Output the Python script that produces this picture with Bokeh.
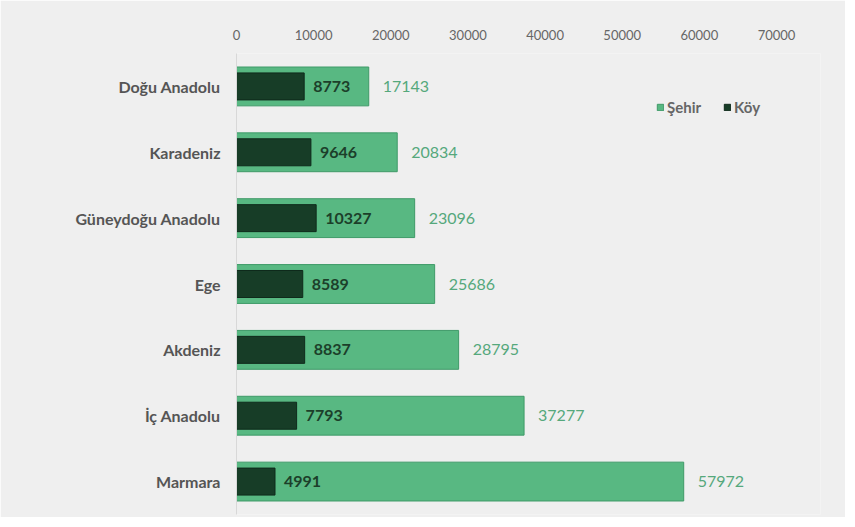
from bokeh.plotting import figure
from bokeh.models import FactorRange, Range1d, FixedTicker, ColumnDataSource, LabelSet
from bokeh.embed import file_html
from bokeh.resources import INLINE
from bokeh.core.properties import value

regions = ["Doğu Anadolu", "Karadeniz", "Güneydoğu Anadolu", "Ege", "Akdeniz", "İç Anadolu", "Marmara"]
sehir = [17143, 20834, 23096, 25686, 28795, 37277, 57972]
koy = [8773, 9646, 10327, 8589, 8837, 7793, 4991]
x_ticks = [0, 10000, 20000, 30000, 40000, 50000, 60000, 70000]

FONT = "Lato"
BG = "#efefef"
SEHIR_C = "#58b882"
KOY_C = "#173d27"

p = figure(width=845, height=517, output_backend="svg", toolbar_location=None,
           y_range=FactorRange(factors=list(reversed(regions))),
           x_range=Range1d(0, 584 / 540 * 70000),
           x_axis_location="above",
           min_border_left=236, min_border_right=25, min_border_top=53, min_border_bottom=3)
p.background_fill_color = BG
p.border_fill_color = BG
p.outline_line_color = None
p.grid.grid_line_color = None

src = ColumnDataSource(dict(
    region=regions, sehir=sehir, koy=koy,
    sehir_lbl=[str(v) for v in sehir], koy_lbl=[str(v) for v in koy],
))

p.hbar(y="region", left=0, right="sehir", height=0.59, source=src,
       fill_color=SEHIR_C, line_color="#3f9a68", line_width=1, legend_label="Şehir")
p.hbar(y="region", left=0, right="koy", height=0.41, source=src,
       fill_color=KOY_C, line_color="#0f2a1b", line_width=1, legend_label="Köy")

p.add_layout(LabelSet(x="koy", y="region", text="koy_lbl", source=src, x_offset=9,
                      text_font=value(FONT), text_font_size="16px", text_font_style="bold",
                      text_color="#1c3f2a", text_baseline="middle", text_align="left"))
p.add_layout(LabelSet(x="sehir", y="region", text="sehir_lbl", source=src, x_offset=14,
                      text_font=value(FONT), text_font_size="16px",
                      text_color="#55a87c", text_baseline="middle", text_align="left"))

# x axis (top)
xa = p.xaxis[0]
xa.ticker = FixedTicker(ticks=x_ticks)
xa.axis_line_color = None
xa.major_tick_line_color = None
xa.minor_tick_line_color = None
xa.major_label_text_font = FONT
xa.major_label_text_font_size = "13px"
xa.major_label_text_color = "#666666"
xa.major_label_standoff = 8

# y axis (left)
ya = p.yaxis[0]
ya.axis_line_color = "#d8d8d8"
ya.major_tick_line_color = None
ya.minor_tick_line_color = None
ya.major_label_text_font = FONT
ya.major_label_text_font_size = "16px"
ya.major_label_text_font_style = "bold"
ya.major_label_text_color = "#555555"
ya.major_label_standoff = 10

leg = p.legend[0]
leg.orientation = "horizontal"
leg.location = (420, 398)
leg.background_fill_alpha = 0
leg.border_line_color = None
leg.label_text_font = FONT
leg.label_text_font_size = "15px"
leg.label_text_font_style = "bold"
leg.label_text_color = "#666666"
leg.glyph_width = 8
leg.glyph_height = 8
leg.spacing = 22
leg.label_standoff = 3
leg.padding = 0
leg.margin = 0

open("out.html", "w").write(file_html(p, INLINE))
